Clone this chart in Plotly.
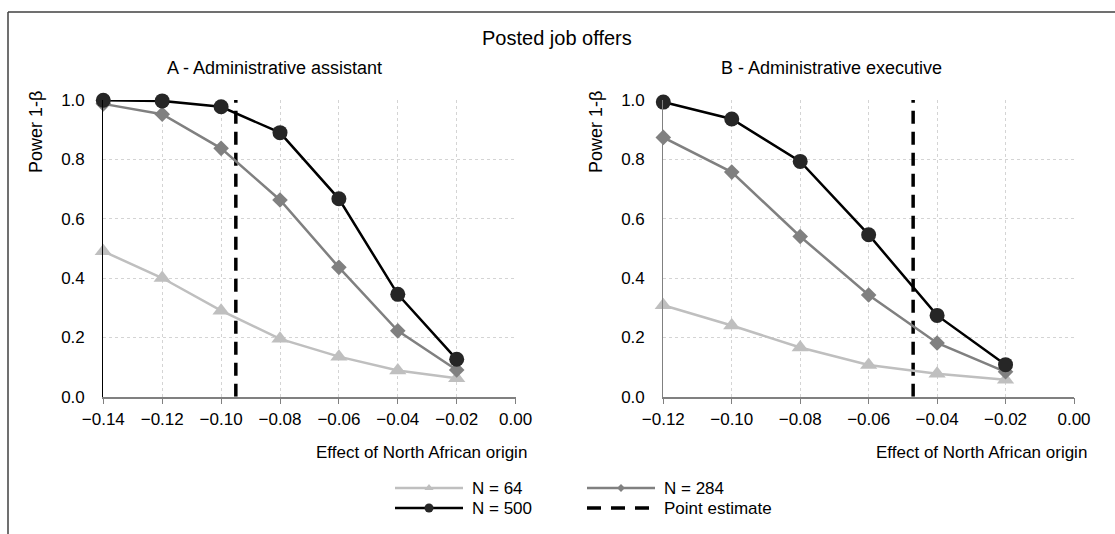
import plotly.graph_objects as go

# Effect sizes (x) and statistical power (y) for each sample size
effect_a = [-0.14, -0.12, -0.10, -0.08, -0.06, -0.04, -0.02]
power_a_n64 = [0.49, 0.40, 0.29, 0.195, 0.135, 0.088, 0.062]
power_a_n284 = [0.987, 0.952, 0.837, 0.663, 0.436, 0.222, 0.090]
power_a_n500 = [0.999, 0.997, 0.977, 0.890, 0.667, 0.345, 0.126]
point_estimate_a = -0.095

effect_b = [-0.12, -0.10, -0.08, -0.06, -0.04, -0.02]
power_b_n64 = [0.308, 0.240, 0.166, 0.107, 0.077, 0.057]
power_b_n284 = [0.874, 0.757, 0.540, 0.343, 0.181, 0.084]
power_b_n500 = [0.993, 0.936, 0.793, 0.546, 0.274, 0.108]
point_estimate_b = -0.047

series_names = ["N = 64", "N = 284", "N = 500"]
line_colors = ["#BFBFBF", "#808080", "#000000"]
marker_colors = ["#BFBFBF", "#808080", "#262626"]
marker_symbols = ["triangle-up", "diamond", "circle"]
marker_sizes = [15, 12, 15]

panel_titles = ["A - Administrative assistant", "B - Administrative executive"]
main_title = "Posted job offers"
x_title = "Effect of North African origin"
y_title = "Power 1-β"
legend_labels = ["N = 64", "N = 284", "N = 500", "Point estimate"]

FONT = "Liberation Sans, Arial, sans-serif"
W, H = 1115, 534

fig = go.Figure()

panels = [
    ("x", "y", effect_a, [power_a_n64, power_a_n284, power_a_n500], point_estimate_a),
    ("x2", "y2", effect_b, [power_b_n64, power_b_n284, power_b_n500], point_estimate_b),
]

for xa, ya, xs, series, pe in panels:
    # point estimate: vertical dashed line over the full power range
    fig.add_trace(go.Scatter(
        x=[pe, pe], y=[0, 1], mode="lines", xaxis=xa, yaxis=ya,
        line=dict(color="#000000", width=3.5, dash="13px,8px"),
        showlegend=False, hoverinfo="skip", cliponaxis=False,
    ))
    for name, ys, lc, mc, sym, ms in zip(series_names, series, line_colors,
                                         marker_colors, marker_symbols, marker_sizes):
        fig.add_trace(go.Scatter(
            x=xs, y=ys, mode="lines+markers", name=name, xaxis=xa, yaxis=ya,
            line=dict(color=lc, width=2.5),
            marker=dict(symbol=sym, size=ms, color=mc, line=dict(width=0)),
            showlegend=False, cliponaxis=False,
        ))

# Legend keys drawn on an overlay axis measured in pixels
leg_x0 = [395, 587, 395, 587]
leg_y = [488, 488, 508, 508]
leg_len = 68
leg_specs = [
    dict(color="#BFBFBF", symbol="triangle-up", size=8, dash="solid", mcolor="#BFBFBF", w=2.5),
    dict(color="#808080", symbol="diamond", size=6, dash="solid", mcolor="#808080", w=2.5),
    dict(color="#000000", symbol="circle", size=9, dash="solid", mcolor="#262626", w=2.5),
    dict(color="#000000", symbol=None, size=0, dash="14px,10px", mcolor="#000000", w=3.5),
]
for lx, ly, spec, label in zip(leg_x0, leg_y, leg_specs, legend_labels):
    fig.add_trace(go.Scatter(
        x=[lx, lx + leg_len], y=[ly, ly], mode="lines", xaxis="x3", yaxis="y3",
        line=dict(color=spec["color"], width=spec["w"], dash=spec["dash"]),
        showlegend=False, hoverinfo="skip",
    ))
    if spec["symbol"]:
        fig.add_trace(go.Scatter(
            x=[lx + leg_len / 2], y=[ly], mode="markers", xaxis="x3", yaxis="y3",
            marker=dict(symbol=spec["symbol"], size=spec["size"], color=spec["mcolor"]),
            showlegend=False, hoverinfo="skip",
        ))
    fig.add_annotation(x=lx + leg_len + 7, y=ly, xref="x3", yref="y3", text=label,
                       showarrow=False, xanchor="left", yanchor="middle",
                       font=dict(size=17, color="#000000", family=FONT))

grid = dict(showgrid=True, gridcolor="#D4D4D4", griddash="dot", gridwidth=1)
tickfont = dict(size=17)

fig.update_layout(
    width=W, height=H,
    margin=dict(l=0, r=0, t=0, b=0, pad=0, autoexpand=False),
    paper_bgcolor="white", plot_bgcolor="rgba(0,0,0,0)",
    font=dict(family=FONT, size=17, color="#000000"),
    showlegend=False,
    xaxis=dict(domain=[103.3 / W, 515.6 / W], range=[-0.14, 0], tickvals=effect_a + [0.0],
               ticks="outside", ticklen=6, tickcolor="#808080", tickwidth=1.2, tickfont=tickfont,
               showline=True, linecolor="#808080", linewidth=1.5, zeroline=False,
               anchor="y", automargin=False, **grid),
    yaxis=dict(domain=[1 - 396.7 / H, 1 - 100 / H], range=[0, 1], dtick=0.2,
               tickformat=".1f", showline=True, linecolor="#000000", linewidth=1.2,
               zeroline=False, ticks="", ticklabelstandoff=14, tickfont=tickfont,
               anchor="x", automargin=False, **grid),
    xaxis2=dict(domain=[663.3 / W, 1074 / W], range=[-0.12, 0], tickvals=effect_b + [0.0],
                ticks="outside", ticklen=6, tickcolor="#808080", tickwidth=1.2, tickfont=tickfont,
                showline=True, linecolor="#808080", linewidth=1.5, zeroline=False,
                anchor="y2", automargin=False, **grid),
    yaxis2=dict(domain=[1 - 396.7 / H, 1 - 100 / H], range=[0, 1], dtick=0.2,
                tickformat=".1f", showline=True, linecolor="#808080", linewidth=1.2,
                zeroline=False, ticks="", ticklabelstandoff=14, tickfont=tickfont,
                anchor="x2", automargin=False, **grid),
    xaxis3=dict(domain=[0, 1], range=[0, W], visible=False, fixedrange=True, anchor="y3"),
    yaxis3=dict(domain=[0, 1], range=[H, 0], visible=False, fixedrange=True, anchor="x3"),
)

# Unicode minus on negative tick labels
for ax, xs in (("xaxis", effect_a), ("xaxis2", effect_b)):
    vals = xs + [0.0]
    fig.layout[ax].ticktext = [("\u2212" if v < 0 else "") + f"{abs(v):.2f}" for v in vals]

# Frame around the figure (open on the right and at the bottom)
fig.add_shape(type="line", xref="paper", yref="paper", x0=8 / W, x1=1.02,
              y0=1 - 12 / H, y1=1 - 12 / H, line=dict(color="#404040", width=1.5))
fig.add_shape(type="line", xref="paper", yref="paper", x0=8 / W, x1=8 / W,
              y0=1 - 12 / H, y1=-0.02, line=dict(color="#404040", width=1.5))

# Titles
fig.add_annotation(x=557 / W, y=1 - 38 / H, xref="paper", yref="paper", text=main_title,
                   showarrow=False, xanchor="center", yanchor="middle", font=dict(size=20))
fig.add_annotation(x=274 / W, y=1 - 68 / H, xref="paper", yref="paper", text=panel_titles[0],
                   showarrow=False, xanchor="center", yanchor="middle", font=dict(size=18))
fig.add_annotation(x=831 / W, y=1 - 68 / H, xref="paper", yref="paper", text=panel_titles[1],
                   showarrow=False, xanchor="center", yanchor="middle", font=dict(size=18))

# Axis titles
for xpos in (36, 596):
    fig.add_annotation(x=xpos / W, y=1 - 89 / H, xref="paper", yref="paper", text=y_title,
                       textangle=-90, showarrow=False, xanchor="center", yanchor="top",
                       font=dict(size=18))
for xpos in (529, 1089):
    fig.add_annotation(x=xpos / W, y=1 - 452 / H, xref="paper", yref="paper", text=x_title,
                       showarrow=False, xanchor="right", yanchor="middle", font=dict(size=17))

fig.write_html("out.html")
